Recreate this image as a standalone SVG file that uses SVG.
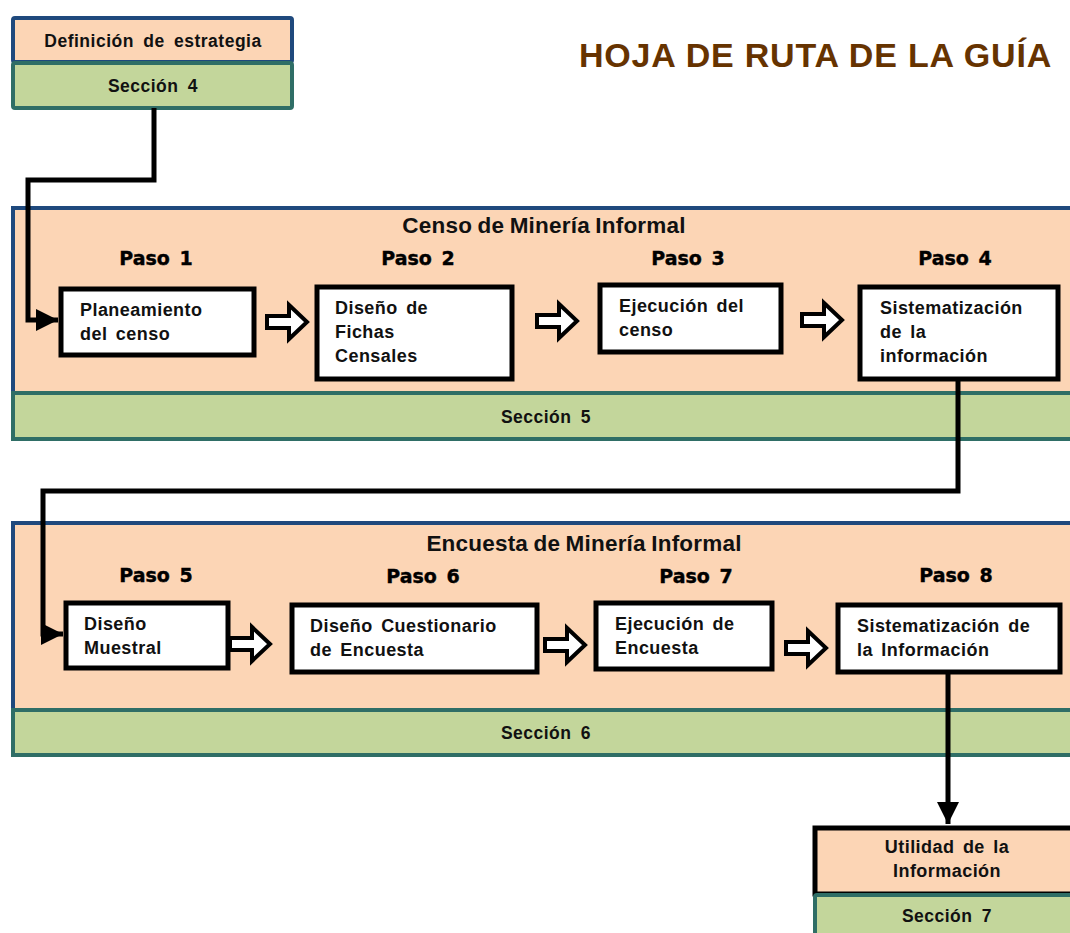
<svg xmlns="http://www.w3.org/2000/svg" xmlns:xlink="http://www.w3.org/1999/xlink" width="1070" height="933" viewBox="0 0 1070 933">
<style>
.salmon{fill:#FCD5B5;stroke:#1F497D;stroke-width:4}
.green{fill:#C3D69B;stroke:#2F6E66;stroke-width:4}
.step{fill:#FFFFFF;stroke:#000;stroke-width:5}
.t{font-family:"Liberation Sans",Arial,sans-serif;font-weight:bold;font-size:18px;fill:#111;letter-spacing:0.45px;word-spacing:3px}
.s{font-size:17.5px;letter-spacing:0.5px;word-spacing:4px}
.c{text-anchor:middle}
.paso{font-family:"DejaVu Sans","Liberation Sans",sans-serif;font-weight:bold;font-size:19px;fill:#000;stroke:#000;stroke-width:0.4px;text-anchor:middle;word-spacing:3px}
.ptitle{font-family:"Liberation Sans",Arial,sans-serif;font-weight:bold;font-size:22.5px;fill:#111;text-anchor:middle;word-spacing:-1px;letter-spacing:0.2px}
.conn{fill:none;stroke:#000;stroke-width:5;stroke-linejoin:miter}
.blk{fill:#fff;stroke:#000;stroke-width:4;stroke-linejoin:miter}
</style>
<defs>
<marker id="ah" viewBox="0 0 10 10" refX="10" refY="5" markerWidth="4.4" markerHeight="4.4" markerUnits="strokeWidth" orient="auto">
<path d="M0,0 L10,5 L0,10 Z" fill="#000"/>
</marker>
<path id="barrow" d="M0,-6 H22 V-17 L40,0 L22,17 V6 H0 Z"/>
</defs>
<rect width="1070" height="933" fill="#fff"/>

<text x="1052" y="67" font-family="Liberation Sans,Arial,sans-serif" font-weight="bold" font-size="34" fill="#663300" text-anchor="end" letter-spacing="0.8">HOJA DE RUTA DE LA GUÍA</text>

<g id="estrategia">
<rect class="salmon" x="13" y="18" width="279" height="44" rx="2"/>
<rect class="green" x="13" y="63" width="279" height="45" rx="2"/>
<text class="t s c" x="153" y="47">Definición de estrategia</text>
<text class="t s c" x="153" y="92">Sección 4</text>
</g>

<g id="censo">
<rect class="salmon" x="13" y="208" width="1070" height="185"/>
<rect class="green" x="13" y="393" width="1070" height="46"/>
<text class="ptitle" x="544" y="233">Censo de Minería Informal</text>
<text class="t s c" x="546" y="423">Sección 5</text>
</g>

<g id="paso1">
<text class="paso" x="156" y="265">Paso 1</text>
<rect class="step" x="61" y="289" width="193" height="66"/>
<text class="t" x="80" y="316">Planeamiento</text>
<text class="t" x="80" y="340">del censo</text>
</g>
<g id="paso2">
<text class="paso" x="418" y="265">Paso 2</text>
<rect class="step" x="317" y="287" width="195" height="92"/>
<text class="t" x="335" y="314">Diseño de</text>
<text class="t" x="335" y="338">Fichas</text>
<text class="t" x="335" y="362">Censales</text>
</g>
<g id="paso3">
<text class="paso" x="688" y="265">Paso 3</text>
<rect class="step" x="600" y="285" width="181" height="67"/>
<text class="t" x="619" y="312">Ejecución del</text>
<text class="t" x="619" y="336">censo</text>
</g>
<g id="paso4">
<text class="paso" x="955" y="265">Paso 4</text>
<rect class="step" x="860" y="287" width="198" height="92"/>
<text class="t" x="880" y="314">Sistematización</text>
<text class="t" x="880" y="338">de la</text>
<text class="t" x="880" y="362">información</text>
</g>

<g id="encuesta">
<rect class="salmon" x="13" y="523" width="1070" height="187"/>
<rect class="green" x="13" y="710" width="1070" height="45"/>
<text class="ptitle" x="584" y="551">Encuesta de Minería Informal</text>
<text class="t s c" x="546" y="739">Sección 6</text>
</g>

<g id="paso5">
<text class="paso" x="156" y="582">Paso 5</text>
<rect class="step" x="66" y="603" width="162" height="65"/>
<text class="t" x="84" y="630">Diseño</text>
<text class="t" x="84" y="654">Muestral</text>
</g>
<g id="paso6">
<text class="paso" x="423" y="583">Paso 6</text>
<rect class="step" x="292" y="605" width="245" height="67"/>
<text class="t" x="310" y="632">Diseño Cuestionario</text>
<text class="t" x="310" y="656">de Encuesta</text>
</g>
<g id="paso7">
<text class="paso" x="696" y="583">Paso 7</text>
<rect class="step" x="596" y="603" width="176" height="66"/>
<text class="t" x="615" y="630">Ejecución de</text>
<text class="t" x="615" y="654">Encuesta</text>
</g>
<g id="paso8">
<text class="paso" x="956" y="582">Paso 8</text>
<rect class="step" x="838" y="605" width="222" height="67"/>
<text class="t" x="857" y="632">Sistematización de</text>
<text class="t" x="857" y="656">la Información</text>
</g>

<g id="utilidad">
<rect x="815" y="828" width="270" height="66" fill="#FCD5B5" stroke="#000" stroke-width="5"/>
<rect class="green" x="815" y="895" width="270" height="50" rx="2"/>
<text class="t c" x="947" y="853">Utilidad de la</text>
<text class="t c" x="947" y="877">Información</text>
<text class="t s c" x="947" y="922">Sección 7</text>
</g>

<g id="connectors">
<path class="conn" d="M154,108 V180 H28 V320 H58" marker-end="url(#ah)"/>
<path class="conn" d="M958,380 V491 H43 V634 H63" marker-end="url(#ah)"/>
<path class="conn" d="M948,673 V824" marker-end="url(#ah)"/>
<use xlink:href="#barrow" class="blk" transform="translate(267,322)"/>
<use xlink:href="#barrow" class="blk" transform="translate(537,321)"/>
<use xlink:href="#barrow" class="blk" transform="translate(802,320)"/>
<use xlink:href="#barrow" class="blk" transform="translate(230,644)"/>
<use xlink:href="#barrow" class="blk" transform="translate(545,645)"/>
<use xlink:href="#barrow" class="blk" transform="translate(786,648)"/>
</g>
</svg>
